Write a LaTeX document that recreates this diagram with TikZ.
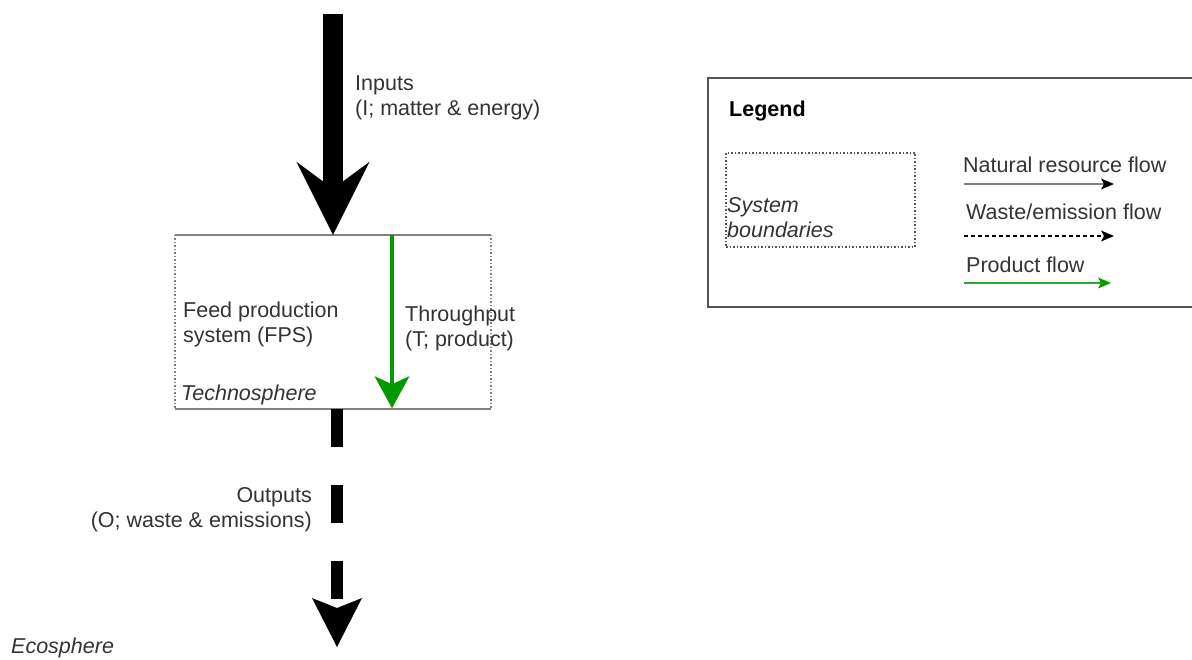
\documentclass[tikz,border=0pt]{standalone}
\usepackage{fontspec}
\setmainfont{Liberation Sans}
\usetikzlibrary{arrows.meta}
\definecolor{txt}{HTML}{333333}
\definecolor{flowgreen}{HTML}{009900}
\definecolor{lightgreen}{HTML}{33A533}
\definecolor{edge}{HTML}{555555}
\definecolor{boxedge}{HTML}{808080}
\begin{document}
\begin{tikzpicture}[x=1pt,y=-1pt,
  every node/.style={font=\fontsize{21.5pt}{25pt}\selectfont, text=txt, inner sep=0pt},
  lbl/.style={anchor=west, align=left},
  boundary/.style={draw=boxedge, line width=1.5pt, dotted},
  solidedge/.style={draw=boxedge, line width=1.6pt},
  bigflow/.style={line width=20pt, -{Stealth[length=73pt,width=73pt,inset=27pt,line width=0pt]}},
  wasteflow/.style={line width=12pt, dash pattern=on 38pt off 38pt, -{Stealth[length=49pt,width=50pt,inset=10pt,line width=0pt]}},
  productflow/.style={flowgreen, line width=4pt, -{Stealth[length=32pt,width=35pt,inset=8pt,line width=0pt]}},
  legarrow/.style={line width=1.8pt, -{Stealth[length=13pt,width=11pt,inset=3pt,line width=0pt,#1]}},
  legarrow/.default={color=black}]
\useasboundingbox (0,0) rectangle (1192,660);

% feed production system (technosphere boundary)
\node[minimum width=316pt, minimum height=174pt] (fps) at (333,322) {};
\draw[boundary] (fps.north west) -- (fps.south west);
\draw[boundary] (fps.north east) -- (fps.south east);
\draw[solidedge] (fps.north west) -- (fps.north east);
\draw[solidedge] (fps.south west) -- (fps.south east);

\node[lbl] (fpslabel) at (183,324) {Feed production\\system (FPS)};
\node[lbl, font=\fontsize{21.5pt}{25pt}\selectfont\itshape] (techno) at (181,395) {Technosphere};

% inputs
\coordinate (intop) at (333,14);
\draw[bigflow] (intop) -- (fps.north);
\node[lbl] (inputs) at (355,98) {Inputs\\(I; matter \& energy)};

% throughput
\coordinate (thrtop) at ([xshift=59pt]fps.north);
\coordinate (thrbot) at ([xshift=59pt,yshift=1pt]fps.south);
\draw[productflow] (thrtop) -- (thrbot);
\node[lbl] (throughput) at (405,328.5) {Throughput\\(T; product)};

% outputs
\coordinate (outtop) at ([xshift=4pt]fps.south);
\coordinate (eco) at (337,647);
\draw[wasteflow] (outtop) -- (eco);
\node[anchor=east, align=right] (outputs) at (312,510) {Outputs\\(O; waste \& emissions)};

\node[lbl, font=\fontsize{21.5pt}{25pt}\selectfont\itshape] (ecosphere) at (11,648) {Ecosphere};

% legend
\draw[draw=edge, line width=1.8pt] (1193,78) -- (708,78) -- (708,307) -- (1193,307);
\node[lbl, font=\fontsize{21.5pt}{25pt}\selectfont\bfseries, text=black] (legend) at (729,111) {Legend};
\node[boundary, draw=edge, line width=1.2pt, minimum width=189pt, minimum height=94pt] (sysbox) at (820.5,200) {};
\node[lbl, font=\fontsize{21.5pt}{25pt}\selectfont\itshape] (systext) at (727,217.5) {System\\boundaries};

\node[lbl] (natlabel) at (963,165) {Natural resource flow};
\coordinate (nat1) at (964,184);
\coordinate (nat2) at (1114,184);
\draw[legarrow, draw=gray] (nat1) -- (nat2);

\node[lbl] (wastelabel) at (966,212) {Waste/emission flow};
\coordinate (was1) at (964,236);
\coordinate (was2) at (1114,236);
\draw[legarrow, black, line width=1.3pt, dash pattern=on 4pt off 3pt] (was1) -- (was2);

\node[lbl] (prodlabel) at (966,265) {Product flow};
\coordinate (pro1) at (964,283);
\coordinate (pro2) at (1111,283);
\draw[legarrow={color=flowgreen}, draw=lightgreen] (pro1) -- (pro2);
\end{tikzpicture}
\end{document}
